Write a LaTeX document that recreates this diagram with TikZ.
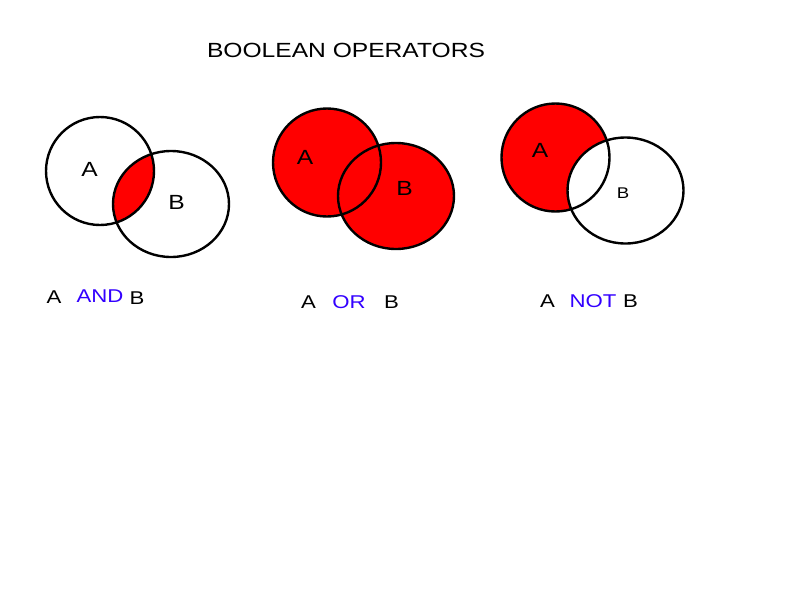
\documentclass[tikz,border=0pt]{standalone}
\usepackage{fontspec}
\setmainfont[FakeStretch=1.2]{Liberation Sans}
\usepackage{xcolor}
\usepackage{tikz}
\definecolor{setred}{RGB}{255,0,0}
\definecolor{opblue}{RGB}{51,0,255}

\begin{document}
\begin{tikzpicture}[
  x=1pt, y=-1pt,
  ring/.style={draw=black, line width=2.4pt},
  headline/.style={font=\fontsize{20.5}{24}\selectfont},
  setlabel/.style={font=\fontsize{20.5}{24}\selectfont},
  smalllabel/.style={font=\fontsize{15.5}{18}\selectfont},
  rowlabel/.style={font=\fontsize{18.5}{22}\selectfont},
  opword/.style={rowlabel, text=opblue},
]
\useasboundingbox[fill=white] (0,0) rectangle (800,600);

\node[headline] (title) at (346,50) {BOOLEAN OPERATORS};

% A AND B
\begin{scope}
\clip (100,171) circle [radius=54];
\fill[setred] (171,204) ellipse [x radius=58, y radius=53];
\end{scope}
\draw[ring] (100,171) circle [radius=54];
\draw[ring] (171,204) ellipse [x radius=58, y radius=53];
\node[setlabel] (andsetA) at (89.5,169) {A};
\node[setlabel] (andsetB) at (176.5,202.5) {B};
\node[rowlabel] (andA) at (54,297.5) {A};
\node[opword] (andop) at (100,296) {AND};
\node[rowlabel] (andB) at (137,298) {B};

% A OR B
\fill[setred] (327,162.5) circle [radius=54];
\fill[setred] (396,196) ellipse [x radius=58, y radius=53];
\draw[ring] (327,162.5) circle [radius=54];
\draw[ring] (396,196) ellipse [x radius=58, y radius=53];
\node[setlabel] (orsetA) at (305,157.5) {A};
\node[setlabel] (orsetB) at (404.5,188) {B};
\node[rowlabel] (orA) at (308.5,302) {A};
\node[opword] (orop) at (349,302) {OR};
\node[rowlabel] (orB) at (391.5,302) {B};

% A NOT B
\fill[setred] (555.5,157.5) circle [radius=54];
\fill[white] (625.5,190.5) ellipse [x radius=58, y radius=53];
\draw[ring] (555.5,157.5) circle [radius=54];
\draw[ring] (625.5,190.5) ellipse [x radius=58, y radius=53];
\node[setlabel] (notsetA) at (540,150.5) {A};
\node[smalllabel] (notsetB) at (623,193.5) {B};
\node[rowlabel] (notA) at (547.5,301.5) {A};
\node[opword] (notop) at (593,301) {NOT};
\node[rowlabel] (notB) at (630.5,301) {B};
\end{tikzpicture}
\end{document}
